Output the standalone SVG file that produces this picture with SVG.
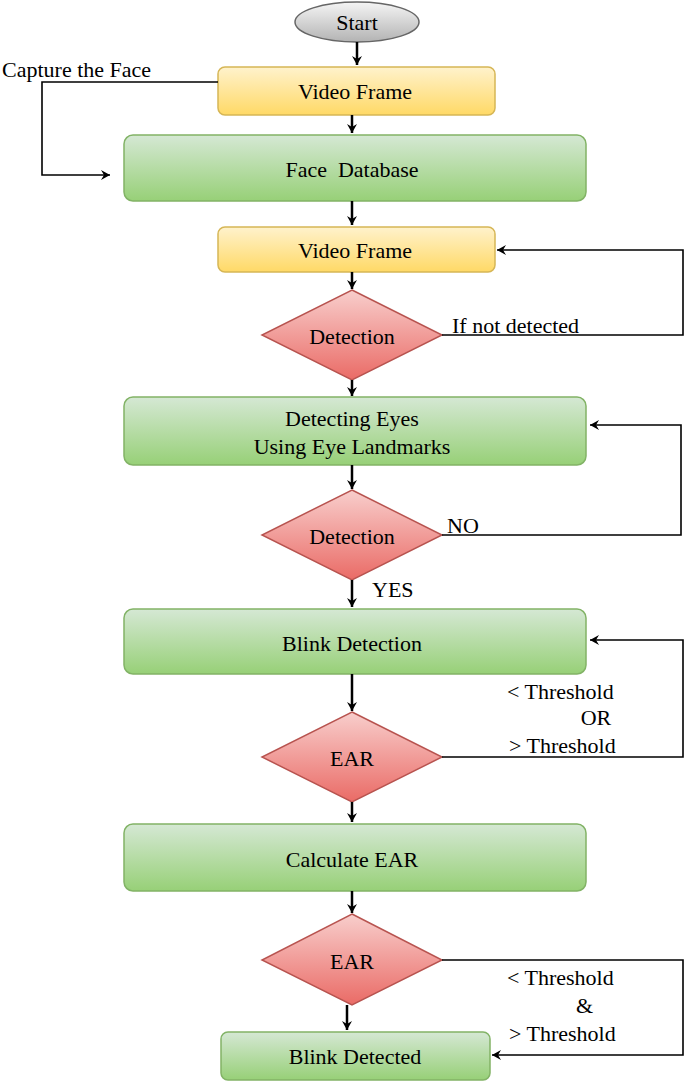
<svg xmlns="http://www.w3.org/2000/svg" width="685" height="1084" viewBox="0 0 685 1084">
<defs>
<linearGradient id="g" x1="0" y1="0" x2="0" y2="1"><stop offset="0" stop-color="#d5e8d4"/><stop offset="1" stop-color="#97d077"/></linearGradient>
<linearGradient id="y" x1="0" y1="0" x2="0" y2="1"><stop offset="0" stop-color="#fff2cc"/><stop offset="1" stop-color="#ffd966"/></linearGradient>
<linearGradient id="r" x1="0" y1="0" x2="0" y2="1"><stop offset="0" stop-color="#f8cecc"/><stop offset="1" stop-color="#ea6b66"/></linearGradient>
<linearGradient id="s" x1="0" y1="0" x2="0" y2="1"><stop offset="0" stop-color="#f5f5f5"/><stop offset="1" stop-color="#b3b3b3"/></linearGradient>
<marker id="a" markerWidth="12" markerHeight="12" refX="10" refY="6" orient="auto" markerUnits="userSpaceOnUse"><path d="M1,1 L10,6 L1,11 L4,6 Z" fill="#000"/></marker>
</defs>
<style>
text{font-family:"Liberation Serif",serif;font-size:22px;fill:#000}
.c{text-anchor:middle;dominant-baseline:central}
.gn{fill:url(#g);stroke:#82b366;stroke-width:1.5}
.yn{fill:url(#y);stroke:#d6b656;stroke-width:1.5}
.rn{fill:url(#r);stroke:#b85450;stroke-width:1.5}
.e{fill:none;stroke:#000;stroke-width:2.5;marker-end:url(#a)}
.f{fill:none;stroke:#000;stroke-width:1.6;marker-end:url(#a)}
</style>
<g id="start"><ellipse cx="357" cy="22" rx="62" ry="20" fill="url(#s)" stroke="#666" stroke-width="1.5"/><text class="c" x="357" y="22">Start</text></g>
<g id="vf1"><rect class="yn" x="218" y="67" width="277" height="48" rx="7"/><text class="c" x="355" y="91">Video Frame</text></g>
<g id="fdb"><rect class="gn" x="124" y="135" width="462" height="66" rx="9"/><text class="c" x="352" y="169" xml:space="preserve">Face  Database</text></g>
<g id="vf2"><rect class="yn" x="218" y="227" width="277" height="45" rx="7"/><text class="c" x="355" y="250">Video Frame</text></g>
<g id="d1"><polygon class="rn" points="352,290 442,335 352,380 262,335"/><text class="c" x="352" y="336">Detection</text></g>
<g id="eyes"><rect class="gn" x="124" y="397" width="462" height="68" rx="9"/><text class="c" x="352" y="418">Detecting Eyes</text><text class="c" x="352" y="446">Using Eye Landmarks</text></g>
<g id="d2"><polygon class="rn" points="352,490 442,535 352,580 262,535"/><text class="c" x="352" y="536">Detection</text></g>
<g id="blink"><rect class="gn" x="124" y="609" width="462" height="65" rx="9"/><text class="c" x="352" y="643">Blink Detection</text></g>
<g id="ear1"><polygon class="rn" points="352,712 442,757 352,802 262,757"/><text class="c" x="352" y="758">EAR</text></g>
<g id="calc"><rect class="gn" x="124" y="824" width="462" height="67" rx="9"/><text class="c" x="352" y="859">Calculate EAR</text></g>
<g id="ear2"><polygon class="rn" points="352,914 442,960 352,1005 262,960"/><text class="c" x="352" y="961">EAR</text></g>
<g id="bd"><rect class="gn" x="221" y="1032" width="269" height="48" rx="7"/><text class="c" x="355" y="1056">Blink Detected</text></g>
<g id="connectors">
<path class="e" d="M357,42 V65"/>
<path class="e" d="M352,115 V133"/>
<path class="f" d="M218,82 H42 V175 H110"/>
<path class="e" d="M352,201 V225"/>
<path class="e" d="M352,272 V289"/>
<path class="f" d="M442,335 H683 V250 H497"/>
<path class="e" d="M352,380 V396"/>
<path class="e" d="M352,465 V489"/>
<path class="f" d="M442,535 H681 V425 H590"/>
<path class="e" d="M352,580 V607"/>
<path class="e" d="M352,674 V711"/>
<path class="f" d="M442,757 H683 V640 H590"/>
<path class="e" d="M352,802 V822"/>
<path class="e" d="M352,891 V913"/>
<path class="f" d="M442,960 H683 V1055 H492"/>
<path class="e" d="M347,1005 V1030"/>
</g>
<g id="labels">
<text x="2" y="77">Capture the Face</text>
<text x="452" y="333">If not detected</text>
<text x="447" y="533">NO</text>
<text x="372" y="597">YES</text>
<text x="507" y="699">&lt; Threshold</text>
<text class="c" x="596" y="718" style="dominant-baseline:auto" dy="7">OR</text>
<text x="509" y="753">&gt; Threshold</text>
<text x="507" y="985">&lt; Threshold</text>
<text x="576" y="1013">&amp;</text>
<text x="509" y="1041">&gt; Threshold</text>
</g>
</svg>
